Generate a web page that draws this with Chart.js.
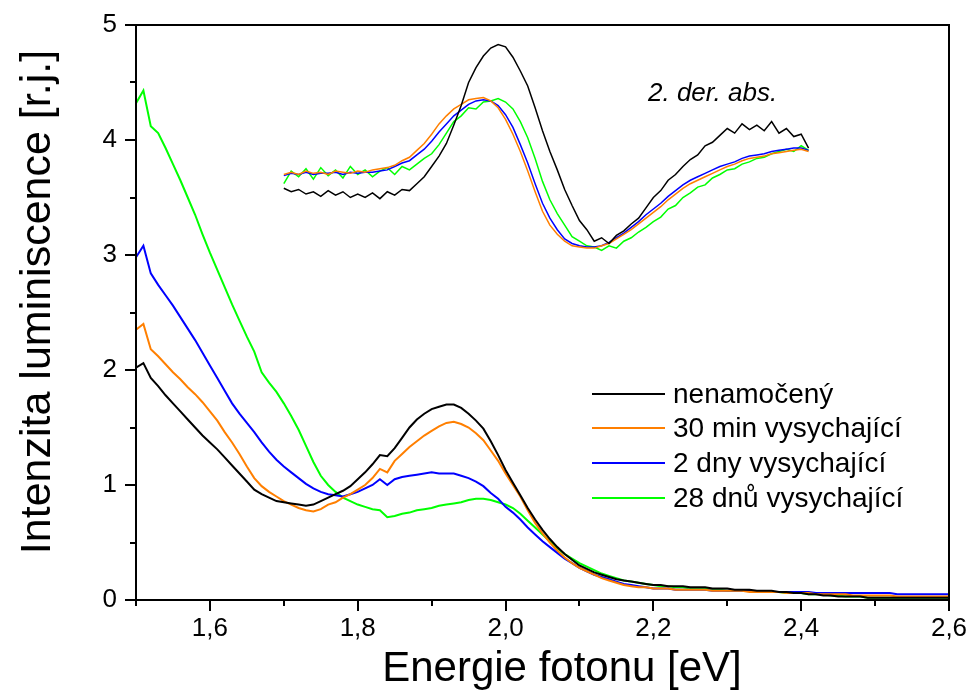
<!DOCTYPE html>
<html>
<head>
<meta charset="utf-8">
<script src="https://cdn.jsdelivr.net/npm/chart.js@4.4.1/dist/chart.umd.min.js"></script>
<style>
  html, body { margin: 0; padding: 0; background: #fff; }
  #wrap { width: 972px; height: 696px; }
</style>
</head>
<body>
<div id="wrap"><canvas id="chart" width="972" height="696"></canvas></div>
<script>
// photon energy grid of the luminescence spectra [eV]
const energy = [
  1.50, 1.51, 1.52, 1.53, 1.54, 1.55, 1.56, 1.57, 1.58, 1.59,
  1.60, 1.61, 1.62, 1.63, 1.64, 1.65, 1.66, 1.67, 1.68, 1.69,
  1.70, 1.71, 1.72, 1.73, 1.74, 1.75, 1.76, 1.77, 1.78, 1.79,
  1.80, 1.81, 1.82, 1.83, 1.84, 1.85, 1.86, 1.87, 1.88, 1.89,
  1.90, 1.91, 1.92, 1.93, 1.94, 1.95, 1.96, 1.97, 1.98, 1.99,
  2.00, 2.01, 2.02, 2.03, 2.04, 2.05, 2.06, 2.07, 2.08, 2.09,
  2.10, 2.11, 2.12, 2.13, 2.14, 2.15, 2.16, 2.17, 2.18, 2.19,
  2.20, 2.21, 2.22, 2.23, 2.24, 2.25, 2.26, 2.27, 2.28, 2.29,
  2.30, 2.31, 2.32, 2.33, 2.34, 2.35, 2.36, 2.37, 2.38, 2.39,
  2.40, 2.41, 2.42, 2.43, 2.44, 2.45, 2.46, 2.47, 2.48, 2.49,
  2.50, 2.51, 2.52, 2.53, 2.54, 2.55, 2.56, 2.57, 2.58, 2.59,
  2.60
];

// luminescence intensity [r.j.]
const lumNenamoceny = [
  2.02, 2.06, 1.93, 1.86, 1.78, 1.71, 1.64, 1.57, 1.50, 1.43,
  1.37, 1.31, 1.24, 1.17, 1.10, 1.03, 0.96, 0.92, 0.89, 0.86,
  0.85, 0.84, 0.83, 0.82, 0.83, 0.86, 0.89, 0.92, 0.95, 0.99,
  1.05, 1.11, 1.18, 1.26, 1.25, 1.32, 1.41, 1.50, 1.57, 1.62,
  1.66, 1.68, 1.70, 1.70, 1.67, 1.62, 1.56, 1.49, 1.38, 1.26,
  1.13, 1.02, 0.91, 0.80, 0.70, 0.61, 0.53, 0.46, 0.40, 0.35,
  0.30, 0.27, 0.24, 0.22, 0.20, 0.18, 0.17, 0.16, 0.15, 0.14,
  0.13, 0.13, 0.12, 0.12, 0.12, 0.11, 0.11, 0.11, 0.10, 0.10,
  0.10, 0.09, 0.09, 0.09, 0.08, 0.08, 0.08, 0.07, 0.07, 0.06,
  0.06, 0.05, 0.05, 0.04, 0.04, 0.03, 0.03, 0.03, 0.03, 0.02,
  0.02, 0.02, 0.02, 0.02, 0.02, 0.02, 0.02, 0.02, 0.02, 0.02,
  0.02
];
const lum30min = [
  2.35, 2.40, 2.18, 2.12, 2.05, 1.98, 1.92, 1.85, 1.79, 1.72,
  1.64, 1.56, 1.46, 1.37, 1.27, 1.16, 1.06, 0.99, 0.94, 0.90,
  0.86, 0.83, 0.80, 0.78, 0.77, 0.79, 0.83, 0.85, 0.89, 0.92,
  0.96, 1.00, 1.06, 1.14, 1.11, 1.21, 1.27, 1.33, 1.38, 1.43,
  1.47, 1.51, 1.54, 1.55, 1.53, 1.50, 1.45, 1.39, 1.30, 1.21,
  1.10, 1.00, 0.90, 0.78, 0.67, 0.58, 0.50, 0.43, 0.37, 0.32,
  0.28, 0.25, 0.22, 0.19, 0.17, 0.15, 0.13, 0.12, 0.11, 0.11,
  0.10, 0.10, 0.10, 0.09, 0.09, 0.09, 0.09, 0.09, 0.08, 0.08,
  0.08, 0.08, 0.08, 0.07, 0.07, 0.07, 0.07, 0.07, 0.06, 0.06,
  0.06, 0.06, 0.05, 0.05, 0.05, 0.05, 0.05, 0.04, 0.04, 0.04,
  0.04, 0.04, 0.04, 0.03, 0.03, 0.03, 0.03, 0.03, 0.03, 0.03,
  0.03
];
const lum2dny = [
  2.98, 3.08, 2.84, 2.74, 2.65, 2.56, 2.46, 2.36, 2.26, 2.15,
  2.04, 1.93, 1.82, 1.71, 1.62, 1.54, 1.46, 1.37, 1.29, 1.22,
  1.16, 1.11, 1.06, 1.01, 0.97, 0.94, 0.92, 0.91, 0.90, 0.92,
  0.94, 0.97, 1.00, 1.05, 1.00, 1.05, 1.07, 1.08, 1.09, 1.10,
  1.11, 1.10, 1.10, 1.10, 1.08, 1.06, 1.03, 0.99, 0.93, 0.88,
  0.81, 0.76, 0.70, 0.63, 0.57, 0.51, 0.46, 0.41, 0.36, 0.32,
  0.28, 0.25, 0.22, 0.20, 0.18, 0.16, 0.14, 0.13, 0.12, 0.11,
  0.10, 0.10, 0.10, 0.09, 0.09, 0.09, 0.09, 0.09, 0.08, 0.08,
  0.08, 0.08, 0.08, 0.08, 0.07, 0.07, 0.07, 0.07, 0.07, 0.07,
  0.07, 0.07, 0.06, 0.06, 0.06, 0.06, 0.06, 0.06, 0.06, 0.06,
  0.06, 0.06, 0.06, 0.05, 0.05, 0.05, 0.05, 0.05, 0.05, 0.05,
  0.05
];
const lum28dnu = [
  4.32, 4.43, 4.12, 4.06, 3.93, 3.79, 3.65, 3.50, 3.35, 3.18,
  3.02, 2.87, 2.72, 2.57, 2.43, 2.29, 2.16, 1.98, 1.89, 1.81,
  1.71, 1.60, 1.48, 1.34, 1.20, 1.08, 1.00, 0.94, 0.89, 0.86,
  0.83, 0.81, 0.79, 0.78, 0.72, 0.73, 0.75, 0.76, 0.78, 0.79,
  0.80, 0.82, 0.83, 0.84, 0.85, 0.87, 0.88, 0.88, 0.87, 0.85,
  0.83, 0.80, 0.75, 0.69, 0.63, 0.57, 0.51, 0.45, 0.40, 0.36,
  0.32, 0.29, 0.26, 0.23, 0.21, 0.19, 0.17, 0.16, 0.15, 0.14,
  0.13, 0.12, 0.12, 0.11, 0.11, 0.10, 0.10, 0.10, 0.09, 0.09,
  0.08, 0.08, 0.08, 0.08, 0.07, 0.07, 0.07, 0.07, 0.06, 0.06,
  0.06, 0.05, 0.05, 0.05, 0.04, 0.04, 0.03, 0.03, 0.03, 0.02,
  0.02, 0.02, 0.02, 0.02, 0.02, 0.02, 0.02, 0.02, 0.02, 0.02,
  0.02
];

// inset: 2nd derivative of absorption, plotted in the same axes
const insetEnergy = [
  1.70, 1.71, 1.72, 1.73, 1.74, 1.75, 1.76, 1.77, 1.78, 1.79,
  1.80, 1.81, 1.82, 1.83, 1.84, 1.85, 1.86, 1.87, 1.88, 1.89,
  1.90, 1.91, 1.92, 1.93, 1.94, 1.95, 1.96, 1.97, 1.98, 1.99,
  2.00, 2.01, 2.02, 2.03, 2.04, 2.05, 2.06, 2.07, 2.08, 2.09,
  2.10, 2.11, 2.12, 2.13, 2.14, 2.15, 2.16, 2.17, 2.18, 2.19,
  2.20, 2.21, 2.22, 2.23, 2.24, 2.25, 2.26, 2.27, 2.28, 2.29,
  2.30, 2.31, 2.32, 2.33, 2.34, 2.35, 2.36, 2.37, 2.38, 2.39,
  2.40, 2.41
];
const absNenamoceny = [
  3.58, 3.55, 3.57, 3.53, 3.55, 3.51, 3.56, 3.52, 3.55, 3.50,
  3.53, 3.50, 3.54, 3.49, 3.55, 3.52, 3.57, 3.56, 3.62, 3.68,
  3.77, 3.86, 3.97, 4.13, 4.30, 4.50, 4.63, 4.73, 4.80, 4.83,
  4.81, 4.72, 4.60, 4.47, 4.28, 4.08, 3.90, 3.74, 3.57, 3.43,
  3.30, 3.22, 3.12, 3.15, 3.10, 3.17, 3.21, 3.27, 3.32, 3.41,
  3.50, 3.56, 3.65, 3.70, 3.77, 3.83, 3.87, 3.95, 3.98, 4.04,
  4.10, 4.06, 4.14, 4.09, 4.13, 4.08, 4.16, 4.06, 4.10, 4.03,
  4.05, 3.93
];
const abs30min = [
  3.70, 3.72, 3.70, 3.73, 3.71, 3.72, 3.70, 3.73, 3.72, 3.71,
  3.73, 3.72, 3.74, 3.75, 3.76, 3.78, 3.82, 3.85, 3.91, 3.97,
  4.05, 4.14, 4.21, 4.27, 4.31, 4.35, 4.36, 4.37, 4.34, 4.28,
  4.18, 4.05, 3.90, 3.73, 3.55, 3.38, 3.26, 3.18, 3.12, 3.08,
  3.07, 3.06, 3.06, 3.08, 3.10, 3.14, 3.18, 3.22, 3.27, 3.32,
  3.37, 3.42, 3.48, 3.53, 3.58, 3.62, 3.65, 3.68, 3.71, 3.74,
  3.77, 3.79, 3.82, 3.84, 3.85, 3.86, 3.88, 3.89, 3.90, 3.91,
  3.92, 3.90
];
const abs2dny = [
  3.69, 3.71, 3.70, 3.72, 3.70, 3.71, 3.71, 3.72, 3.70, 3.72,
  3.71, 3.72, 3.72, 3.73, 3.74, 3.77, 3.80, 3.82, 3.87, 3.92,
  3.99, 4.07, 4.14, 4.21, 4.26, 4.31, 4.34, 4.35, 4.34, 4.30,
  4.22, 4.11, 3.96, 3.80, 3.62, 3.45, 3.32, 3.22, 3.14, 3.10,
  3.08, 3.07, 3.07, 3.08, 3.11, 3.15, 3.19, 3.24, 3.29, 3.35,
  3.40, 3.45, 3.51, 3.56, 3.61, 3.65, 3.68, 3.71, 3.74, 3.77,
  3.79, 3.81, 3.84, 3.86, 3.87, 3.88, 3.90, 3.91, 3.92, 3.93,
  3.93, 3.91
];
const abs28dnu = [
  3.62, 3.73, 3.68, 3.75, 3.66, 3.76, 3.69, 3.74, 3.67, 3.77,
  3.70, 3.74, 3.68, 3.73, 3.76, 3.70, 3.77, 3.74, 3.79, 3.84,
  3.88, 3.96, 4.06, 4.16, 4.21, 4.28, 4.27, 4.33, 4.34, 4.36,
  4.33, 4.27, 4.16, 4.02, 3.84, 3.64, 3.48, 3.36, 3.26, 3.16,
  3.12, 3.08, 3.07, 3.04, 3.08, 3.06, 3.12, 3.15, 3.20, 3.24,
  3.29, 3.33, 3.40, 3.43, 3.50, 3.54, 3.59, 3.61, 3.67, 3.70,
  3.74, 3.75, 3.79, 3.81, 3.84, 3.85, 3.88, 3.90, 3.92, 3.90,
  3.95, 3.91
];

const seriesNames = ['nenamočený', '30 min vysychající', '2 dny vysychající', '28 dnů vysychající'];
const seriesColors = ['#000000', '#ff7f00', '#0000ff', '#00ff00'];

const xTicks = [1.6, 1.8, 2.0, 2.2, 2.4, 2.6];
const xMinorTicks = [1.5, 1.7, 1.9, 2.1, 2.3, 2.5];
const yTicks = [0, 1, 2, 3, 4, 5];
const yMinorTicks = [0.5, 1.5, 2.5, 3.5, 4.5];

const FONT = '"Liberation Sans", Arial, sans-serif';

const toPoints = (xs, ys) => xs.map((x, i) => ({ x: x, y: ys[i] }));

const mainSeries = [lumNenamoceny, lum30min, lum2dny, lum28dnu];
const insetSeries = [absNenamoceny, abs30min, abs2dny, abs28dnu];

const datasets = [];
mainSeries.forEach((vals, i) => {
  datasets.push({
    label: seriesNames[i],
    data: toPoints(energy, vals),
    borderColor: seriesColors[i],
    borderWidth: 2,
    pointRadius: 0,
    showLine: true,
    tension: 0
  });
});
insetSeries.forEach((vals, i) => {
  datasets.push({
    label: seriesNames[i] + ' (2. der. abs.)',
    data: toPoints(insetEnergy, vals),
    borderColor: seriesColors[i],
    borderWidth: 1.5,
    pointRadius: 0,
    showLine: true,
    tension: 0
  });
});

// frame, outward ticks, legend and titles
const decorations = {
  id: 'decorations',
  afterDraw(chart) {
    const { ctx, chartArea: a, scales: { x, y } } = chart;
    ctx.save();
    ctx.strokeStyle = '#000';
    ctx.lineWidth = 2;
    ctx.strokeRect(a.left, a.top, a.right - a.left, a.bottom - a.top);

    ctx.beginPath();
    xTicks.forEach(v => {
      const px = Math.round(x.getPixelForValue(v));
      ctx.moveTo(px, a.bottom); ctx.lineTo(px, a.bottom + 11);
    });
    xMinorTicks.forEach(v => {
      const px = Math.round(x.getPixelForValue(v));
      ctx.moveTo(px, a.bottom); ctx.lineTo(px, a.bottom + 6);
    });
    yTicks.forEach(v => {
      const py = Math.round(y.getPixelForValue(v));
      ctx.moveTo(a.left, py); ctx.lineTo(a.left - 11, py);
    });
    yMinorTicks.forEach(v => {
      const py = Math.round(y.getPixelForValue(v));
      ctx.moveTo(a.left, py); ctx.lineTo(a.left - 6, py);
    });
    ctx.stroke();

    // legend
    const rows = [394, 428, 463, 498];
    ctx.font = '28px ' + FONT;
    ctx.textBaseline = 'middle';
    ctx.textAlign = 'left';
    ctx.fillStyle = '#000';
    seriesNames.forEach((name, i) => {
      ctx.strokeStyle = seriesColors[i];
      ctx.lineWidth = 2;
      ctx.beginPath();
      ctx.moveTo(592, rows[i]); ctx.lineTo(665, rows[i]);
      ctx.stroke();
      ctx.fillText(name, 673, rows[i] + 1);
    });

    // inset label
    ctx.font = 'italic 26px ' + FONT;
    ctx.textBaseline = 'alphabetic';
    ctx.fillText('2. der. abs.', 648, 101);

    // axis titles
    ctx.font = '42px ' + FONT;
    ctx.textAlign = 'center';
    ctx.fillText('Energie fotonu [eV]', 562, 681);

    ctx.font = '43px ' + FONT;
    ctx.translate(50, 302);
    ctx.rotate(-Math.PI / 2);
    ctx.fillText('Intenzita luminiscence [r.j.]', 0, 0);
    ctx.restore();
  }
};

new Chart(document.getElementById('chart'), {
  type: 'scatter',
  data: { datasets: datasets },
  options: {
    responsive: false,
    animation: false,
    devicePixelRatio: 1,
    layout: { padding: { top: 25, right: 23, left: 0, bottom: 0 } },
    plugins: {
      legend: { display: false },
      tooltip: { enabled: false }
    },
    scales: {
      x: {
        type: 'linear',
        min: 1.5,
        max: 2.6,
        grid: { display: false, drawTicks: false },
        border: { display: false },
        afterBuildTicks: scale => { scale.ticks = xTicks.map(v => ({ value: v })); },
        afterFit: scale => {
          scale.height = 96;
          scale.paddingLeft = 0;
          scale.paddingRight = 0;
        },
        ticks: {
          color: '#000',
          padding: 13,
          maxRotation: 0,
          font: { family: FONT, size: 26 },
          callback: v => v.toFixed(1).replace('.', ',')
        }
      },
      y: {
        type: 'linear',
        min: 0,
        max: 5,
        grid: { display: false, drawTicks: false },
        border: { display: false },
        afterBuildTicks: scale => { scale.ticks = yTicks.map(v => ({ value: v })); },
        afterFit: scale => {
          scale.width = 136;
          scale.paddingTop = 0;
          scale.paddingBottom = 0;
        },
        ticks: {
          color: '#000',
          padding: 19,
          font: { family: FONT, size: 26 },
          callback: v => String(v)
        }
      }
    }
  },
  plugins: [decorations]
});
</script>
</body>
</html>
